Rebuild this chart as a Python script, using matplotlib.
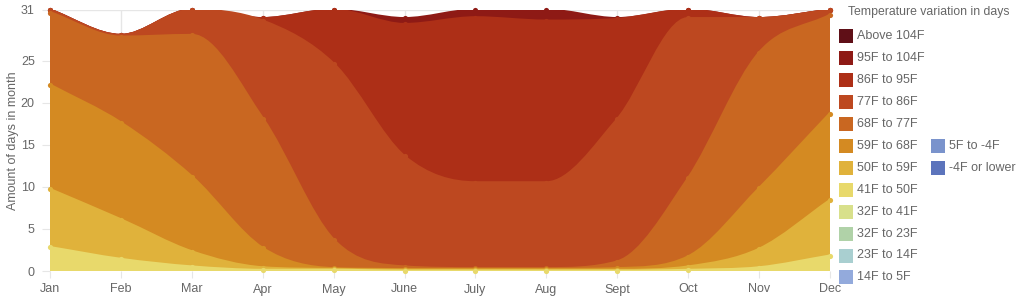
import numpy as np
import matplotlib
matplotlib.use("Agg")
import matplotlib.pyplot as plt
from matplotlib.path import Path
from matplotlib.patches import PathPatch, Rectangle

plt.rcParams['font.family'] = ['Liberation Sans', 'DejaVu Sans']

months = ["Jan", "Feb", "Mar", "Apr", "May", "June", "July", "Aug", "Sept", "Oct", "Nov", "Dec"]

# Series listed from bottom of the stack to top (days per month in each band)
below_m4 = [0] * 12
f5_m4 = [0] * 12
f14_5 = [0] * 12
f23_14 = [0] * 12
f32_23 = [0] * 12
f32_41 = [0] * 12
f41_50 = [2.8, 1.4, 0.5, 0.1, 0.1, 0.0, 0.0, 0.0, 0.0, 0.1, 0.4, 1.8]
f50_59 = [6.9, 4.7, 1.8, 0.3, 0.1, 0.1, 0.1, 0.1, 0.1, 0.4, 2.2, 6.6]
f59_68 = [12.4, 11.5, 8.9, 2.3, 0.1, 0.1, 0.1, 0.1, 0.2, 1.2, 7.2, 10.3]
f68_77 = [8.6, 10.2, 16.8, 15.4, 3.4, 0.3, 0.1, 0.1, 0.8, 9.3, 16.1, 11.7]
f77_86 = [0.3, 0.2, 3.0, 11.6, 20.9, 13.1, 10.2, 10.2, 16.9, 19.0, 4.1, 0.6]
f86_95 = [0.0, 0.0, 0.0, 0.3, 6.4, 15.7, 19.6, 19.2, 11.9, 1.0, 0.0, 0.0]
f95_104 = [0.0, 0.0, 0.0, 0.0, 0.0, 0.7, 0.9, 1.3, 0.1, 0.0, 0.0, 0.0]
above_104 = [0] * 12

labels = ["-4F or lower", "5F to -4F", "14F to 5F", "23F to 14F", "32F to 23F", "32F to 41F",
          "41F to 50F", "50F to 59F", "59F to 68F", "68F to 77F", "77F to 86F", "86F to 95F",
          "95F to 104F", "Above 104F"]
series = [below_m4, f5_m4, f14_5, f23_14, f32_23, f32_41, f41_50, f50_59, f59_68,
          f68_77, f77_86, f86_95, f95_104, above_104]
colors = ["#5c74bc", "#7a93cc", "#93aadc", "#a9cfd0", "#b0d2a8", "#d8e08b",
          "#e8d96b", "#e0b23b", "#d48a22", "#c96721", "#bd4820", "#ad2f17",
          "#8e1a15", "#5f0f17"]

W, H = 1024, 300
fig = plt.figure(figsize=(W / 100, H / 100), dpi=100)
L, R, T, B = 50, 830, 10, 271
ax = fig.add_axes([L / W, 1 - B / H, (R - L) / W, (B - T) / H])
YMAX = 31
ax.set_xlim(0, 11)
ax.set_ylim(0, YMAX)


def controls(xs, ys):
    """Monotone cubic (Fritsch-Carlson) control points, as in Chart.js."""
    n = len(xs)
    dk = [(ys[i + 1] - ys[i]) / (xs[i + 1] - xs[i]) for i in range(n - 1)]
    mk = [0.0] * n
    mk[0] = dk[0]
    mk[-1] = dk[-1]
    for i in range(1, n - 1):
        a, b = dk[i - 1], dk[i]
        if a == 0 or b == 0 or (a > 0) != (b > 0):
            mk[i] = 0.0
        else:
            mk[i] = (a + b) / 2
    for i in range(n - 1):
        if dk[i] == 0:
            mk[i] = 0.0
            mk[i + 1] = 0.0
            continue
        al = mk[i] / dk[i]
        be = mk[i + 1] / dk[i]
        sq = al * al + be * be
        if sq > 9:
            tau = 3 / np.sqrt(sq)
            mk[i] = al * tau * dk[i]
            mk[i + 1] = be * tau * dk[i]
    clampx = lambda v: min(max(v, 0), 11)
    clampy = lambda v: min(max(v, 0), YMAX)
    pc, nc = [], []
    for i in range(n):
        if i > 0:
            dx = (xs[i] - xs[i - 1]) / 3
            pc.append((clampx(xs[i] - dx), clampy(ys[i] - mk[i] * dx)))
        else:
            pc.append((xs[i], ys[i]))
        if i < n - 1:
            dx = (xs[i + 1] - xs[i]) / 3
            nc.append((clampx(xs[i] + dx), clampy(ys[i] + mk[i] * dx)))
        else:
            nc.append((xs[i], ys[i]))
    return pc, nc


def curve_verts(xs, ys):
    pc, nc = controls(xs, ys)
    verts = [(xs[0], ys[0])]
    codes = [Path.MOVETO]
    for i in range(len(xs) - 1):
        verts += [nc[i], pc[i + 1], (xs[i + 1], ys[i + 1])]
        codes += [Path.CURVE4] * 3
    return verts, codes, pc, nc


x = np.arange(len(months), dtype=float)
cum = np.cumsum(np.array(series, dtype=float), axis=0)
lowers = [np.zeros(12)] + [cum[i - 1] for i in range(1, len(series))]

drawn = [i for i in range(len(series)) if sum(series[i]) > 0]
for order, i in enumerate(reversed(drawn)):
    top = cum[i]
    low = lowers[i]
    z = 2 + order
    tv, tc, _, _ = curve_verts(x, top)
    lv, lc, lpc, lnc = curve_verts(x, low)
    verts = list(tv)
    codes = list(tc)
    verts.append((x[-1], low[-1]))
    codes.append(Path.LINETO)
    for k in range(len(x) - 1, 0, -1):
        verts += [lpc[k], lnc[k - 1], (x[k - 1], low[k - 1])]
        codes += [Path.CURVE4] * 3
    verts.append(verts[0])
    codes.append(Path.CLOSEPOLY)
    ax.add_patch(PathPatch(Path(verts, codes), facecolor=colors[i], edgecolor='none', zorder=z))
    ax.add_patch(PathPatch(Path(tv, tc), facecolor='none', edgecolor=colors[i], lw=2.0, zorder=z + 0.5))
    ax.scatter(x, top, s=14, color=colors[i], zorder=z + 0.6, clip_on=False, linewidths=0)

grid_c = "#e6e6e6"
ax.set_xticks(x)
ax.set_xticklabels(months)
ax.set_yticks([0, 5, 10, 15, 20, 25, 31])
ax.grid(True, color=grid_c, lw=1.0)
ax.set_axisbelow(True)
for s in ax.spines.values():
    s.set_visible(False)
ax.tick_params(axis='both', colors=grid_c, labelcolor="#666666", labelsize=9)
ax.tick_params(axis='x', length=5, pad=4)
ax.tick_params(axis='y', length=6, pad=5)
ax.set_ylabel("Amount of days in month", color="#666666", fontsize=9, labelpad=1)

# legend (manual, two columns)
fig.text(848 / W, 1 - 12 / H, "Temperature variation in days", color="#666666",
         fontsize=8.8, va='center', ha='left')
leg_order = list(reversed(range(len(series))))
for j, i in enumerate(leg_order):
    if j < 12:
        sx0, row = 839, j
    else:
        sx0, row = 931, 5 + (j - 12)
    cy = 36 + row * 21.95
    fig.add_artist(Rectangle((sx0 / W, 1 - (cy + 7) / H), 14 / W, 14 / H,
                             transform=fig.transFigure, facecolor=colors[i], edgecolor='none'))
    fig.text((sx0 + 18) / W, 1 - cy / H, labels[i], color="#666666", fontsize=9,
             va='center', ha='left')

fig.savefig("out.png", dpi=100)
